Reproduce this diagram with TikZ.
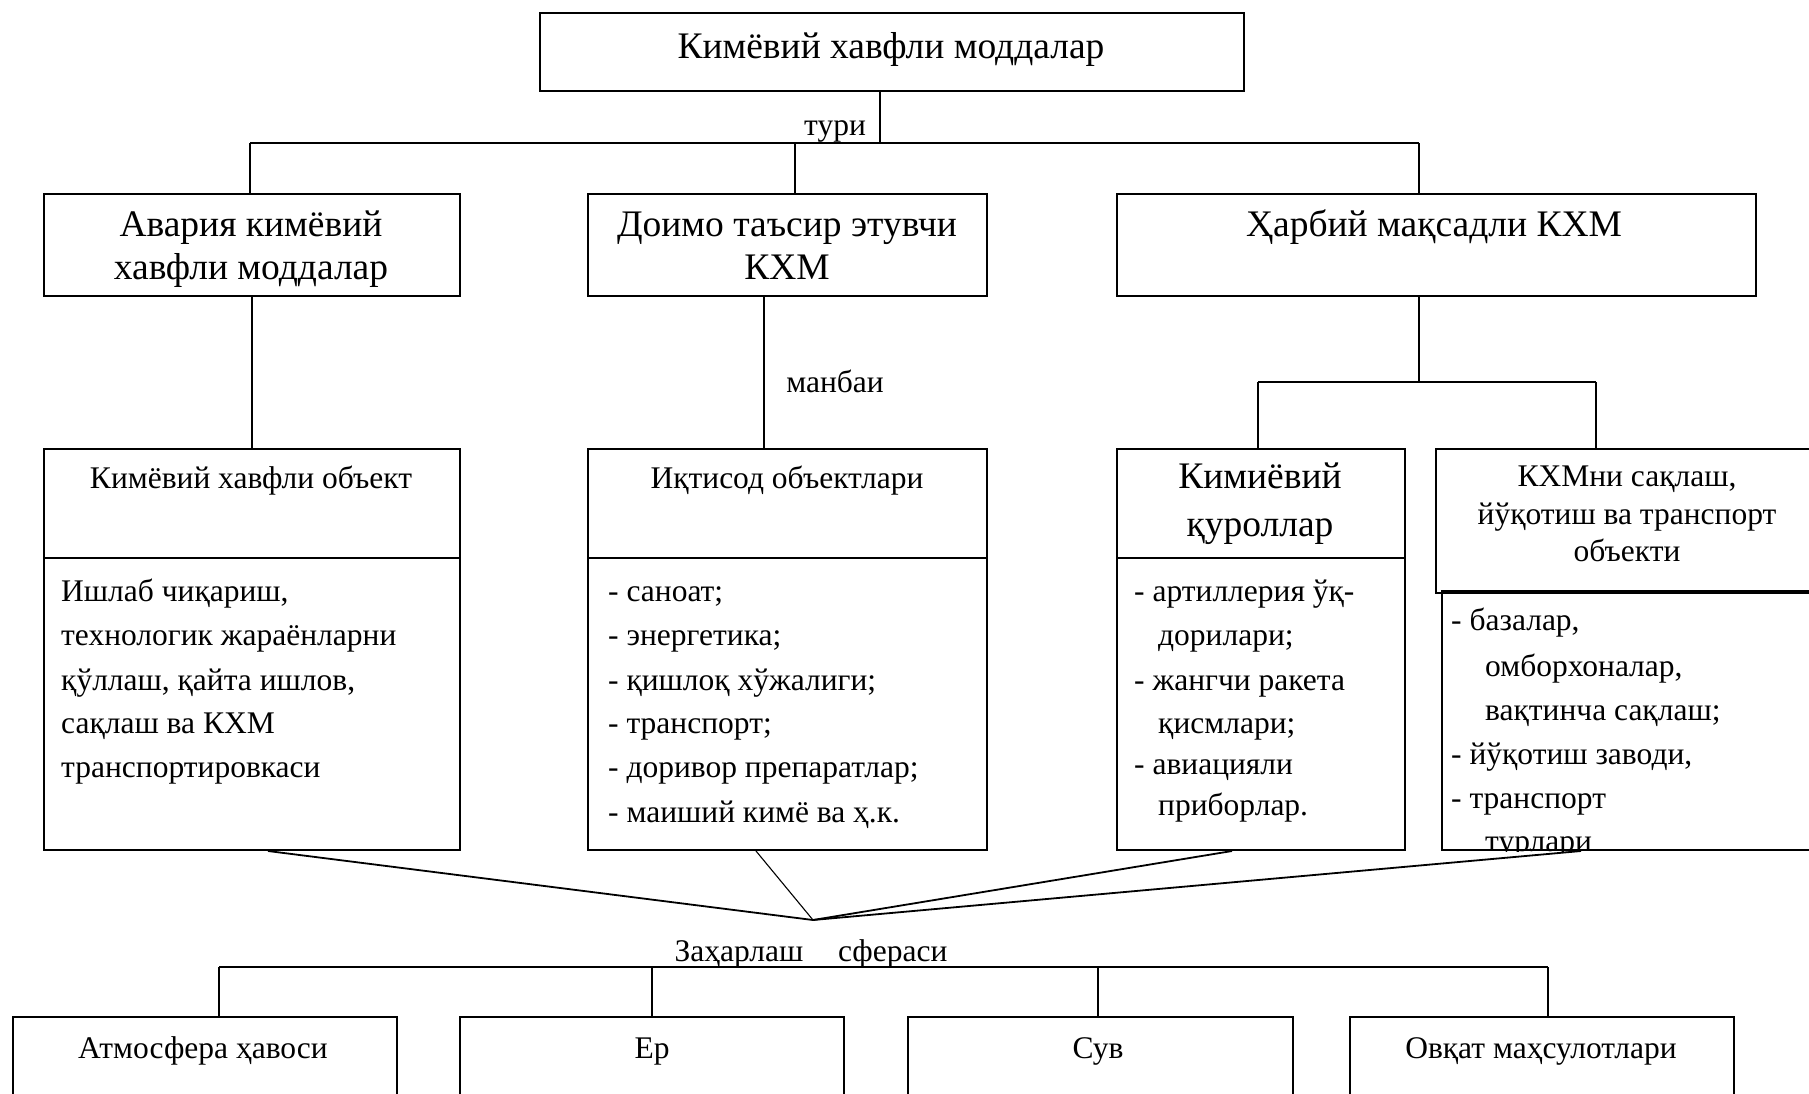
\documentclass[tikz,border=0pt]{standalone}
\usepackage{fontspec}
\setmainfont{Liberation Serif}
\usetikzlibrary{calc}
\begin{document}
\begin{tikzpicture}[x=1pt,y=-1pt,
  box/.style={draw, line width=2pt, inner sep=0pt, anchor=north west},
  ln/.style={line width=1.8pt},
  lnthin/.style={line width=1.1pt},
  tx/.style={inner sep=0pt, font=\fontsize{31.5}{38}\selectfont},
  tbig/.style={inner sep=0pt, font=\fontsize{37.5}{45}\selectfont},
]
\useasboundingbox (0,0) rectangle (1809,1093);

% ---- top
\node[box, minimum width=704, minimum height=78] (top) at (539,12) {};
\node[tbig, anchor=mid] (toptx) at (891,56) {Кимёвий хавфли моддалар};
\coordinate (j1) at (880,143);
\draw[lnthin] (top.south -| j1) -- (j1);
\node[tx, anchor=mid] (turi) at (835,133) {тури};
\coordinate (h1l) at (250,143);
\coordinate (h1m) at (795,143);
\coordinate (h1r) at (1419,143);
\draw[ln] (h1l) -- (h1r);

% ---- row 2
\node[box, minimum width=416, minimum height=102] (bA) at (43,193) {};
\node[box, minimum width=399, minimum height=102] (bB) at (587,193) {};
\node[box, minimum width=639, minimum height=102] (bC) at (1116,193) {};
\draw[ln] (h1l) -- (h1l |- bA.north);
\draw[ln] (h1m) -- (h1m |- bB.north);
\draw[ln] (h1r) -- (h1r |- bC.north);
\node[tbig, anchor=mid] (bAt1) at (251,234) {Авария кимёвий};
\node[tbig, anchor=mid] (bAt2) at (251,277) {хавфли моддалар};
\node[tbig, anchor=mid] (bBt1) at (787,234) {Доимо таъсир этувчи};
\node[tbig, anchor=mid] (bBt2) at (787,277) {КХМ};
\node[tbig, anchor=mid] (bCt1) at (1434,234) {Ҳарбий мақсадли КХМ};

% ---- row 3 boxes
\node[box, minimum width=416, minimum height=109] (aH) at (43,448) {};
\node[box, minimum width=416, minimum height=292] (aB) at (43,557) {};
\node[box, minimum width=399, minimum height=109] (pH) at (587,448) {};
\node[box, minimum width=399, minimum height=292] (pB) at (587,557) {};
\node[box, minimum width=288, minimum height=109] (cH) at (1116,448) {};
\node[box, minimum width=288, minimum height=292] (cB) at (1116,557) {};
\node[box, minimum width=420, minimum height=144] (dH) at (1435,448) {};
\node[box, minimum width=420, minimum height=259] (dB) at (1441,590) {};

% connectors row 2 -> row 3
\draw[ln] (bA.south) -- (aH.north);
\coordinate (mb) at (764,382);
\draw[ln] (bB.south -| mb) -- (pH.north -| mb);
\node[tx, anchor=mid] (manbai) at (835,390) {манбаи};
\coordinate (cj) at (1419,382);
\coordinate (cjl) at (1258,382);
\coordinate (cjr) at (1596,382);
\draw[ln] (bC.south -| cj) -- (cj);
\draw[ln] (cjl) -- (cjr);
\draw[ln] (cjl) -- (cjl |- cH.north);
\draw[ln] (cjr) -- (cjr |- dH.north);

% headers row 3
\node[tx, anchor=mid] (aHt) at (251,486) {Кимёвий хавфли объект};
\node[tx, anchor=mid] (pHt) at (787,486) {Иқтисод объектлари};
\node[tbig, anchor=mid] (cHt1) at (1260,486) {Кимиёвий};
\node[tbig, anchor=mid] (cHt2) at (1260,534) {қуроллар};
\node[tx, anchor=mid] (dHt1) at (1627,484) {КХМни сақлаш,};
\node[tx, anchor=mid] (dHt2) at (1627,522) {йўқотиш ва транспорт};
\node[tx, anchor=mid] (dHt3) at (1627,559) {объекти};

% bodies
\node[tx, anchor=mid west] (aB1) at (61,599) {Ишлаб чиқариш,};
\node[tx, anchor=mid west] (aB2) at (61,643) {технологик жараёнларни};
\node[tx, anchor=mid west] (aB3) at (61,688) {қўллаш, қайта ишлов,};
\node[tx, anchor=mid west] (aB4) at (61,731) {сақлаш ва КХМ};
\node[tx, anchor=mid west] (aB5) at (61,775) {транспортировкаси};

\node[tx, anchor=mid west] (pB1) at (608,599) {- саноат;};
\node[tx, anchor=mid west] (pB2) at (608,643) {- энергетика;};
\node[tx, anchor=mid west] (pB3) at (608,688) {- қишлоқ хўжалиги;};
\node[tx, anchor=mid west] (pB4) at (608,731) {- транспорт;};
\node[tx, anchor=mid west] (pB5) at (608,775) {- доривор препаратлар;};
\node[tx, anchor=mid west] (pB6) at (608,820) {- маиший кимё ва ҳ.к.};

\node[tx, anchor=mid west] (cB1) at (1134,599) {- артиллерия ўқ-};
\node[tx, anchor=mid west] (cB2) at (1158,643) {дорилари;};
\node[tx, anchor=mid west] (cB3) at (1134,688) {- жангчи ракета};
\node[tx, anchor=mid west] (cB4) at (1158,731) {қисмлари;};
\node[tx, anchor=mid west] (cB5) at (1134,772) {- авиацияли};
\node[tx, anchor=mid west] (cB6) at (1158,813) {приборлар.};

\begin{scope}
\clip (dB.north west) rectangle (dB.south east);
\node[tx, anchor=mid west] (dB1) at (1451,628) {- базалар,};
\node[tx, anchor=mid west] (dB2) at (1485,674) {омборхоналар,};
\node[tx, anchor=mid west] (dB3) at (1485,718) {вақтинча сақлаш;};
\node[tx, anchor=mid west] (dB4) at (1451,762) {- йўқотиш заводи,};
\node[tx, anchor=mid west] (dB5) at (1451,806) {- транспорт};
\node[tx, anchor=mid west] (dB6) at (1485,849) {турлари};
\end{scope}

% ---- convergence
\coordinate (conv) at (813,920);
\draw[ln] ($(aB.south west)+(225,0)$) -- (conv);
\draw[lnthin] ($(pB.south west)+(169,0)$) -- (conv);
\draw[ln] ($(cB.south west)+(116,0)$) -- (conv);
\draw[ln] ($(dB.south west)+(140,0)$) -- (conv);

\node[tx, anchor=mid] (zah) at (811,959) {Заҳарлаш\hspace{1.1em}сфераси};
\coordinate (hl) at (219,967);
\coordinate (hm1) at (652,967);
\coordinate (hm2) at (1098,967);
\coordinate (hr) at (1548,967);
\draw[ln] (hl) -- (hr);

\node[box, minimum width=384, minimum height=150] (e1) at (12,1016) {};
\node[box, minimum width=384, minimum height=150] (e2) at (459,1016) {};
\node[box, minimum width=385, minimum height=150] (e3) at (907,1016) {};
\node[box, minimum width=384, minimum height=150] (e4) at (1349,1016) {};
\draw[ln] (hl) -- (hl |- e1.north);
\draw[lnthin] (hm1) -- (hm1 |- e2.north);
\draw[lnthin] (hm2) -- (hm2 |- e3.north);
\draw[ln] (hr) -- (hr |- e4.north);
\node[tx, anchor=mid] (e1t) at (203,1056) {Атмосфера ҳавоси};
\node[tx, anchor=mid] (e2t) at (652,1056) {Ер};
\node[tx, anchor=mid] (e3t) at (1098,1056) {Сув};
\node[tx, anchor=mid] (e4t) at (1541,1056) {Овқат маҳсулотлари};
\end{tikzpicture}
\end{document}
